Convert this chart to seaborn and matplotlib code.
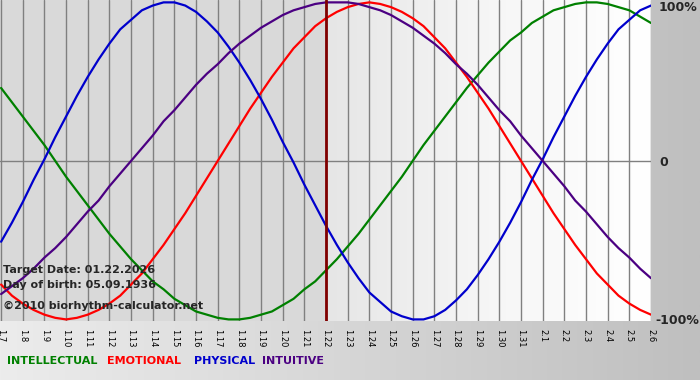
import numpy as np
import pandas as pd
import matplotlib
matplotlib.use("Agg")
import matplotlib.pyplot as plt
import matplotlib.transforms as mtransforms
from matplotlib.colors import LinearSegmentedColormap
import seaborn as sns

sns.set_style("white")
plt.rcParams['font.family'] = ['DejaVu Sans']

# ---- data ----
day_labels = ["1.7", "1.8", "1.9", "1.10", "1.11", "1.12", "1.13", "1.14", "1.15", "1.16",
              "1.17", "1.18", "1.19", "1.20", "1.21", "1.22", "1.23", "1.24", "1.25", "1.26",
              "1.27", "1.28", "1.29", "1.30", "1.31", "2.1", "2.2", "2.3", "2.4", "2.5", "2.6"]
# readings every half day (index 0 = 1.7, step 0.5 day)
intellectual = [46, 37, 28, 19, 10, 0, -10, -19, -28, -37, -46, -54, -62, -69, -76, -81,
                -87, -91, -95, -97, -99, -100, -100, -99, -97, -95, -91, -87, -81, -76,
                -69, -62, -54, -46, -37, -28, -19, -10, 0, 10, 19, 28, 37, 46, 54, 62,
                69, 76, 81, 87, 91, 95, 97, 99, 100, 100, 99, 97, 95, 91, 87]
emotional = [-78, -85, -90, -94, -97, -99, -100, -99, -97, -94, -90, -85, -78, -71, -62,
             -53, -43, -33, -22, -11, 0, 11, 22, 33, 43, 53, 62, 71, 78, 85, 90, 94, 97,
             99, 100, 99, 97, 94, 90, 85, 78, 71, 62, 53, 43, 33, 22, 11, 0, -11, -22,
             -33, -43, -53, -62, -71, -78, -85, -90, -94, -97]
physical = [-51, -39, -26, -12, 1, 15, 28, 41, 53, 64, 74, 83, 89, 95, 98, 100, 100, 98,
            94, 88, 81, 72, 62, 51, 39, 26, 12, -1, -15, -28, -41, -53, -64, -74, -83,
            -89, -95, -98, -100, -100, -98, -94, -88, -81, -72, -62, -51, -39, -26, -12,
            1, 15, 28, 41, 53, 64, 74, 83, 89, 95, 98]
intuitive = [-84, -79, -74, -68, -61, -55, -48, -40, -32, -25, -16, -8, 0, 8, 16, 25, 32,
             40, 48, 55, 61, 68, 74, 79, 84, 88, 92, 95, 97, 99, 100, 100, 100, 99, 97,
             95, 92, 88, 84, 79, 74, 68, 61, 55, 48, 40, 32, 25, 16, 8, 0, -8, -16, -25,
             -32, -40, -48, -55, -61, -68, -74]
series_names = ["INTELLECTUAL", "EMOTIONAL", "PHYSICAL", "INTUITIVE"]
series_colors = ["#008000", "#ff0000", "#0000cc", "#4b0082"]
target_index = 15
target_text = "Target Date: 01.22.2026"
birth_text = "Day of birth: 05.09.1936"
copyright_text = "\u00a92010 biorhythm-calculator.net"

n_days = len(day_labels)
positions = [i * 0.5 for i in range(len(intellectual))]
df = pd.DataFrame({
    "day": positions * 4,
    "value": intellectual + emotional + physical + intuitive,
    "series": sum([[n] * len(positions) for n in series_names], []),
})

W, H = 700, 380
fig = plt.figure(figsize=(W / 100, H / 100), dpi=100)

# figure background gradient
bg = fig.add_axes([0, 0, 1, 1])
bg.set_axis_off()
grad = np.linspace(0, 1, 256).reshape(1, -1)
cmap_bg = LinearSegmentedColormap.from_list("bg", ["#ececec", "#d6d6d6", "#bfbfbf"])
bg.imshow(grad, aspect="auto", cmap=cmap_bg, extent=[0, 1, 0, 1])
bg.set_xlim(0, 1); bg.set_ylim(0, 1)

plot_bottom = 321
plot_right = 651
ax = fig.add_axes([0, (H - plot_bottom) / H, plot_right / W, plot_bottom / H])
xmax = n_days - 1
ax.set_xlim(-0.05, xmax)
ax.set_ylim(-101, 101.5)

# shaded regions
ax.axvspan(-0.05, target_index, color="#d9d9d9", zorder=0, lw=0)
cmap_r = LinearSegmentedColormap.from_list("r", ["#e6e6e6", "#f6f6f6", "#ffffff"])
ax.imshow(grad, aspect="auto", cmap=cmap_r, extent=[target_index, xmax, -101, 101.5], zorder=0)

ax.set_xticks(range(n_days))
ax.set_xticklabels(day_labels, rotation=270, fontsize=6)
ax.set_yticks([])
ax.grid(axis="x", color="#808080", lw=1, zorder=1)
ax.set_axisbelow(True)
ax.tick_params(axis="x", length=5, color="#808080", width=1, pad=1, labelcolor="#000000")
for s in ax.spines.values():
    s.set_visible(False)
ax.axhline(0, color="#808080", lw=1, zorder=1)

sns.lineplot(data=df, x="day", y="value", hue="series", hue_order=series_names,
             palette=series_colors, estimator=None, sort=False, lw=1.6, ax=ax,
             legend=False, zorder=3)
ax.set_xlabel("")
ax.set_ylabel("")
ax.set_xlim(-0.05, xmax)
ax.set_ylim(-101, 101.5)
ax.axvline(target_index, color="#800000", lw=2, zorder=4)

# right-hand labels
trans = mtransforms.blended_transform_factory(ax.transAxes, ax.transData)
ax.text(1.011, 96.5, "100%", transform=trans, ha="left", va="center",
        fontsize=9, fontweight="bold", clip_on=False)
ax.text(1.013, -1, "0", transform=trans, ha="left", va="center",
        fontsize=9, fontweight="bold", clip_on=False)
ax.text(1.006, -101, "-100%", transform=trans, ha="left", va="center",
        fontsize=9, fontweight="bold", clip_on=False)

# info text
fig.text(3 / W, 1 - 270 / H, target_text, fontsize=8, fontweight="bold", va="center", ha="left")
fig.text(3 / W, 1 - 285 / H, birth_text, fontsize=8, fontweight="bold", va="center", ha="left")
fig.text(3 / W, 1 - 306 / H, copyright_text, fontsize=8, fontweight="bold", va="center", ha="left")

# legend words
legend_x = [7, 107, 194, 262]
for name, col, lx in zip(series_names, series_colors, legend_x):
    fig.text(lx / W, 1 - 361 / H, name, color=col, fontsize=8, fontweight="bold",
             va="center", ha="left")

fig.savefig("out.png", dpi=100)
